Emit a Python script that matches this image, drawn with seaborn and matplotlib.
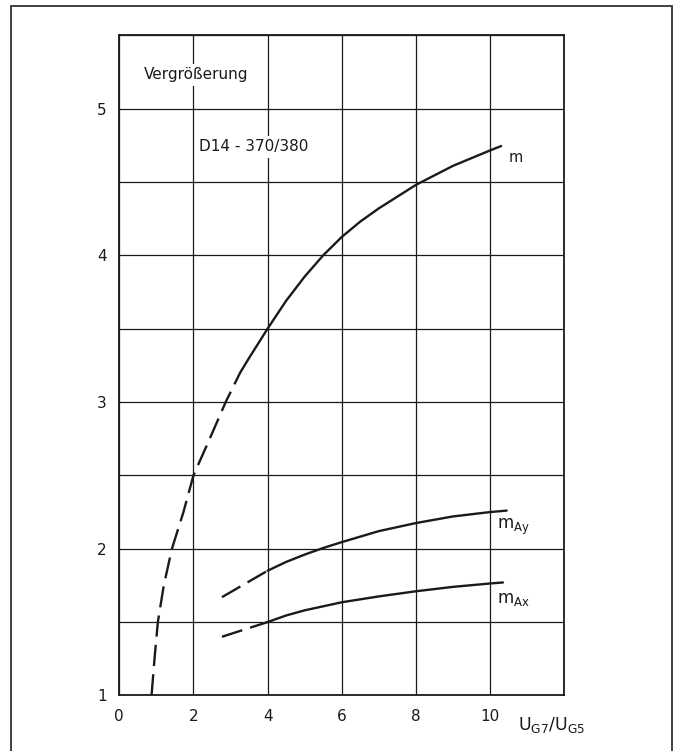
import matplotlib
matplotlib.use("Agg")
import matplotlib.pyplot as plt
import matplotlib.patches as mpatches
import pandas as pd
import seaborn as sns

sns.set_style("white")
plt.rcParams['font.family'] = ['DejaVu Sans']
plt.rcParams['mathtext.fontset'] = 'dejavusans'

# Magnification curves, D14-370/380
m_dash_x = [0.87, 0.95, 1.04, 1.20, 1.42, 1.73, 2.0, 2.44, 2.87, 3.26]
m_dash_y = [1.0, 1.25, 1.5, 1.75, 2.0, 2.25, 2.5, 2.75, 3.0, 3.2]
m_x = [3.26, 3.5, 4.0, 4.5, 5.0, 5.5, 6.0, 6.5, 7.0, 8.0, 9.0, 10.0, 10.3]
m_y = [3.2, 3.3, 3.5, 3.69, 3.855, 4.0, 4.125, 4.23, 4.32, 4.48, 4.61, 4.715, 4.745]

may_dash_x = [2.77, 4.0]
may_dash_y = [1.67, 1.85]
may_x = [4.0, 4.5, 5.0, 5.5, 6.0, 7.0, 8.0, 9.0, 10.0, 10.45]
may_y = [1.85, 1.91, 1.96, 2.005, 2.045, 2.12, 2.175, 2.22, 2.25, 2.26]

max_dash_x = [2.77, 4.0]
max_dash_y = [1.40, 1.50]
max_x = [4.0, 4.5, 5.0, 6.0, 7.0, 8.0, 9.0, 10.0, 10.35]
max_y = [1.50, 1.545, 1.58, 1.635, 1.675, 1.71, 1.74, 1.763, 1.77]

x_ticks = [0, 2, 4, 6, 8, 10]
y_ticks = [1, 2, 3, 4, 5]

fig = plt.figure(figsize=(6.74, 7.51), dpi=100)
ax = fig.add_axes([0.177, 0.074, 0.660, 0.879])

ink = "#1a1a1a"

# outer frame of the sheet
fig.patches.append(mpatches.Rectangle((10.5 / 674, -0.02), (672 - 10.5) / 674, 1 - 6 / 751 + 0.02,
                                      transform=fig.transFigure, fill=False,
                                      edgecolor="#333333", linewidth=1.3))

ax.set_xlim(0, 12)
ax.set_ylim(1, 5.5)
x_grid = list(range(0, 13, 2))
y_grid = [1 + 0.5 * i for i in range(10)]
ax.set_xticks(x_grid)
ax.set_yticks(y_grid)
ax.grid(True, color=ink, linewidth=0.9)
ax.set_axisbelow(True)
ax.set_xticklabels([str(v) if v in x_ticks else "" for v in x_grid])
ax.set_yticklabels([str(int(v)) if v in y_ticks else "" for v in y_grid])
ax.tick_params(length=0, labelsize=11, colors=ink)
ax.tick_params(axis='x', pad=10)
ax.tick_params(axis='y', pad=9)
for s in ax.spines.values():
    s.set_color(ink)
    s.set_linewidth(1.3)
    s.set_visible(True)

lw = 1.7
dash = (9, 3.5)
segments = [
    (m_dash_x, m_dash_y, True), (m_x, m_y, False),
    (may_dash_x, may_dash_y, True), (may_x, may_y, False),
    (max_dash_x, max_dash_y, True), (max_x, max_y, False),
]
for xs, ys, dashed in segments:
    df = pd.DataFrame({"x": xs, "y": ys})
    line = sns.lineplot(data=df, x="x", y="y", ax=ax, color=ink, linewidth=lw,
                        sort=False, estimator=None, zorder=3)
    if dashed:
        line.lines[-1].set_dashes(dash)
ax.set_xlabel("")
ax.set_ylabel("")

ax.text(10.5, 4.67, "m", fontsize=10.5, color=ink, ha="left", va="center")
ax.text(10.18, 2.15, r"$\mathrm{m}_{\mathrm{Ay}}$", fontsize=12, color=ink, ha="left", va="center")
ax.text(10.18, 1.66, r"$\mathrm{m}_{\mathrm{Ax}}$", fontsize=12, color=ink, ha="left", va="center")

box = dict(facecolor="white", edgecolor="none", pad=2.5)
ax.text(0.66, 5.23, "Vergrößerung", fontsize=11, color=ink, ha="left", va="center",
        bbox=box, zorder=4)
ax.text(2.14, 4.74, "D14 - 370/380", fontsize=11, color=ink, ha="left", va="center",
        bbox=box, zorder=4)

ax.text(10.75, -0.03, r"$\mathrm{U}_{\mathrm{G7}}/\mathrm{U}_{\mathrm{G5}}$", fontsize=12.5,
        color=ink, ha="left", va="top", transform=ax.get_xaxis_transform())

fig.savefig("out.png", dpi=100)
